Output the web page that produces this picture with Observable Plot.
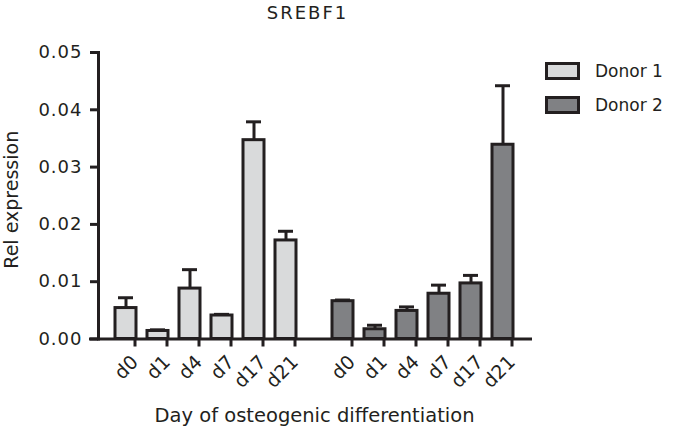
<!DOCTYPE html>
<html><head><meta charset="utf-8">
<script src="https://cdn.jsdelivr.net/npm/d3@7"></script>
<script src="https://cdn.jsdelivr.net/npm/@observablehq/plot@0.6"></script>
<style>
body{margin:0;background:#fff;font-family:"DejaVu Sans",sans-serif;color:#231f20}
#wrap{position:relative;width:675px;height:428px;overflow:hidden}
#title{position:absolute;left:0;top:4px;width:615px;text-align:center;font-size:18px;line-height:18px;letter-spacing:2px}
#chart{position:absolute;left:0;top:36px}
.leg{position:absolute;left:545px;height:18px;display:flex;align-items:center;font-size:17px}
.leg .sw{width:35px;height:18px;box-sizing:border-box;border:3px solid #231f20;margin-right:15px}
#chart svg g[aria-label="y-axis tick label"] text{letter-spacing:1px}
</style>
</head><body>
<div id="wrap">
  <div id="title">SREBF1</div>
  <div id="chart"></div>
  <div id="legend"></div>
</div>
<script>
const days = ["d0", "d1", "d4", "d7", "d17", "d21"];
const donors = ["Donor 1", "Donor 2"];
const donorColors = ["#d9dadb", "#808184"];
const donor1Mean  = [0.0054, 0.0014, 0.0088, 0.0041, 0.0347, 0.0172];
const donor1Upper = [0.0072, 0.0016, 0.0121, 0.0043, 0.0379, 0.0188];
const donor2Mean  = [0.0066, 0.0017, 0.0049, 0.0079, 0.0097, 0.0339];
const donor2Upper = [0.0068, 0.0024, 0.0056, 0.0094, 0.0111, 0.0442];
const yTicks = [0, 0.01, 0.02, 0.03, 0.04, 0.05];
const title = "SREBF1";
const yLabel = "Rel expression";
const xLabel = "Day of osteogenic differentiation";

const means = [donor1Mean, donor2Mean];
const uppers = [donor1Upper, donor2Upper];
const data = [];
donors.forEach((donor, i) => days.forEach((day, j) => data.push({donor, day, mean: means[i][j], upper: uppers[i][j]})));

document.getElementById("title").textContent = title;
const ink = "#231f20";

const chart = Plot.plot({
  width: 675,
  height: 392,
  marginTop: 16,
  marginBottom: 89.5,
  marginLeft: 98,
  marginRight: 145,
  style: {fontFamily: "DejaVu Sans", fontSize: "18px", color: ink, background: "#fff", overflow: "visible"},
  fx: {domain: donors, paddingInner: 0.01, paddingOuter: 0, axis: null, label: null},
  x: {domain: days, paddingInner: 0.348, paddingOuter: 0.512, label: null},
  y: {domain: [0, 0.05], label: null},
  color: {domain: donors, range: donorColors},
  marks: [
    Plot.axisY({ticks: yTicks, tickFormat: d3.format(".2f"), tickSize: 8, tickPadding: 8, strokeWidth: 3, stroke: ink, fill: ink, label: null, fontSize: 18}),
    Plot.axisX({tickSize: 8, tickPadding: 12, tickRotate: -45, strokeWidth: 3, stroke: ink, fill: ink, label: null, fontSize: 19, dx: 9}),
    Plot.barY(data, {fx: "donor", x: "day", y: "mean", fill: "donor", stroke: ink, strokeWidth: 3}),
    Plot.ruleX(data, {fx: "donor", x: "day", y1: "mean", y2: "upper", stroke: ink, strokeWidth: 3}),
    Plot.tickY(data, {fx: "donor", x: "day", y: "upper", stroke: ink, strokeWidth: 3, insetLeft: 3, insetRight: 3}),
    Plot.frame({anchor: "left", facet: "super", stroke: ink, strokeWidth: 3}),
    Plot.frame({anchor: "bottom", facet: "super", stroke: ink, strokeWidth: 3, insetLeft: -8}),
    Plot.text([xLabel], {facet: "super", frameAnchor: "bottom", lineAnchor: "middle", textAnchor: "middle", dy: 77, fontSize: 19.5, fill: ink}),
    Plot.text([yLabel], {facet: "super", frameAnchor: "left", lineAnchor: "middle", textAnchor: "middle", rotate: -90, dx: -87, dy: 4, fontSize: 19, fill: ink})
  ]
});
document.getElementById("chart").appendChild(chart);

const legend = document.getElementById("legend");
donors.forEach((d, i) => {
  const row = document.createElement("div");
  row.className = "leg";
  row.style.top = (62 + i * 34) + "px";
  const sw = document.createElement("div");
  sw.className = "sw";
  sw.style.background = donorColors[i];
  const t = document.createElement("span");
  t.textContent = d;
  row.appendChild(sw);
  row.appendChild(t);
  legend.appendChild(row);
});
</script>
</body></html>
